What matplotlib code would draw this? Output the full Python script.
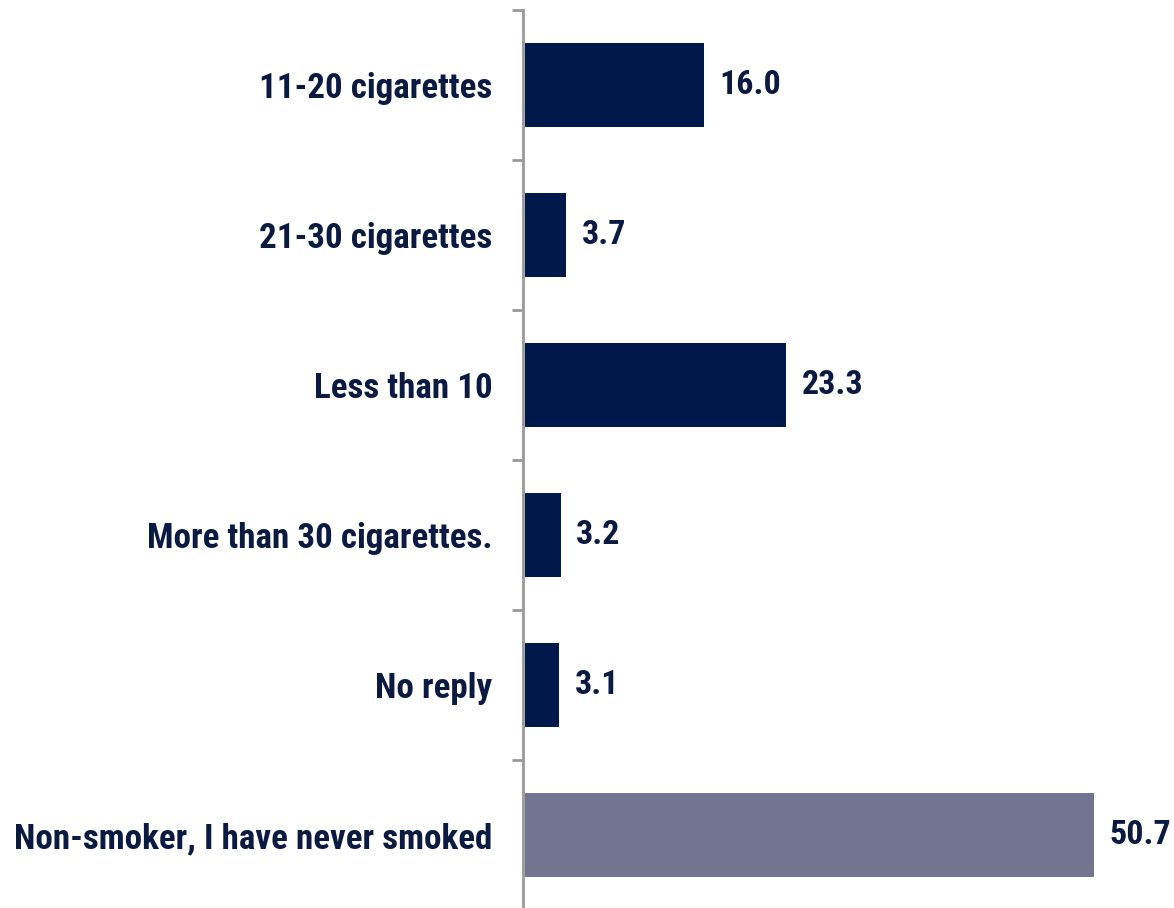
import matplotlib
matplotlib.use("Agg")
import matplotlib.pyplot as plt
import numpy as np

# Данные
categories = [
    "11-20 cigarettes",
    "21-30 cigarettes",
    "Less than 10",
    "More than 30 cigarettes.",
    "No reply",
    "Non-smoker, I have never smoked",
]
values = [16.0, 3.7, 23.3, 3.2, 3.1, 50.7]
bar_colors = ["#01184a", "#01184a", "#01184a", "#01184a", "#01184a", "#737590"]

text_color = "#0b1a40"
font = ["Roboto Condensed", "DejaVu Sans"]

fig = plt.figure(figsize=(11.74, 9.08), dpi=100)
ax = fig.add_axes([523 / 1174, -2 / 908, 1 - 523 / 1174, 900 / 908])

y = np.arange(len(categories))
ax.barh(y, values, height=0.56, color=bar_colors, left=0.15)

ax.set_ylim(len(categories) - 0.5, -0.5)
ax.set_xlim(0, 58)

# Подписи значений
for yi, v in zip(y, values):
    ax.annotate(f"{v:.1f}", xy=(v + 0.15, yi), xytext=(11, 0),
                textcoords="offset points", va="center", ha="left",
                fontsize=24.5, fontweight="bold", color=text_color, family=font)

ax.set_yticks(y)
ax.set_yticklabels(categories, fontsize=25.2, fontweight="bold",
                   color=text_color, family=font)
ax.tick_params(axis="y", which="major", length=0, pad=22)
ax.set_yticks(np.arange(-0.5, len(categories), 1), minor=True)
ax.tick_params(axis="y", which="minor", length=8, width=2, color="#999999")
ax.set_xticks([])

for side in ["top", "right", "bottom"]:
    ax.spines[side].set_visible(False)
ax.spines["left"].set_color("#999999")
ax.spines["left"].set_linewidth(2)

fig.savefig("out.png", dpi=100)
